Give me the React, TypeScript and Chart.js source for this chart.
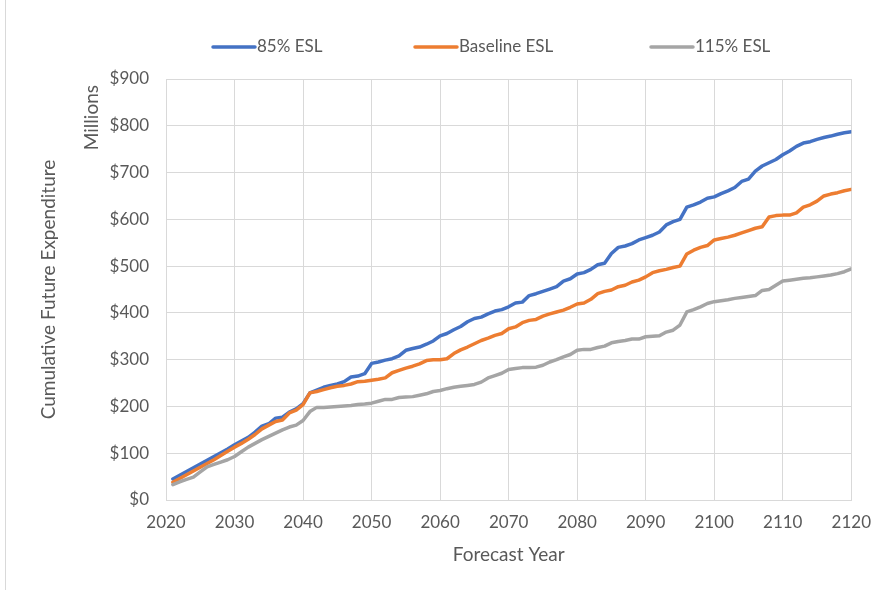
import { useEffect, useRef } from "react";
import { Chart, registerables } from "chart.js";

Chart.register(...registerables);

// Cumulative future expenditure ($ millions), one value per forecast year
const FIRST_YEAR = 2021;

const ESL_85 = [
  45, 53, 61, 69, 77, 85, 93, 101, 109, 118,
  126, 134, 145, 158, 163, 175, 177, 188, 195, 206,
  229, 235, 241, 245, 248, 253, 263, 265, 270, 292,
  295, 299, 302, 308, 320, 324, 327, 333, 340, 351,
  356, 364, 371, 381, 388, 391, 398, 404, 407, 413,
  421, 423, 437, 441, 446, 451, 456, 468, 473, 483,
  486, 493, 503, 506, 527, 540, 543, 548, 556, 561,
  566, 573, 588, 595, 600, 626, 631, 637, 645, 648,
  655, 661, 668, 681, 686, 703, 714, 721, 728, 738,
  746, 756, 763, 766, 771, 775, 778, 782, 785, 787,
];

const ESL_BASE = [
  38, 46, 54, 62, 70, 78, 86, 95, 104, 113,
  121, 130, 140, 152, 160, 168, 171, 186, 192, 204,
  229, 232, 236, 240, 243, 245, 248, 253, 254, 256,
  258, 261, 272, 277, 282, 286, 291, 298, 300, 300,
  302, 313, 321, 327, 334, 341, 346, 352, 356, 366,
  370, 379, 384, 386, 393, 398, 402, 406, 412, 419,
  421, 429, 441, 446, 449, 456, 459, 466, 470, 477,
  486, 490, 493, 497, 500, 526, 534, 540, 544, 556,
  559, 562, 566, 571, 576, 581, 584, 605, 608, 609,
  609, 614, 626, 631, 639, 650, 654, 657, 661, 664,
];

const ESL_115 = [
  33, 39, 44, 49, 60, 71, 76, 81, 86, 93,
  103, 113, 121, 129, 136, 143, 150, 156, 160, 170,
  189, 198, 198, 199, 200, 201, 202, 204, 205, 207,
  211, 215, 215, 219, 220, 221, 224, 227, 232, 234,
  238, 241, 243, 245, 247, 252, 261, 266, 271, 279,
  281, 283, 283, 284, 288, 295, 300, 306, 311, 320,
  322, 322, 326, 329, 336, 339, 341, 344, 344, 349,
  350, 351, 359, 363, 374, 402, 407, 413, 420, 424,
  426, 428, 431, 433, 435, 437, 448, 450, 459, 468,
  470, 472, 474, 475, 477, 479, 481, 484, 488, 494,
];

const SERIES_NAMES = ["85% ESL", "Baseline ESL", "115% ESL"];
const SERIES_VALUES = [ESL_85, ESL_BASE, ESL_115];
const SERIES_COLORS = ["#4472C4", "#ED7D31", "#A5A5A5"];

const X_MIN = 2020;
const X_MAX = 2120;
const X_STEP = 10;
const Y_MIN = 0;
const Y_MAX = 900;
const Y_STEP = 100;

const X_TITLE = "Forecast Year";
const Y_TITLE = "Cumulative Future Expenditure";
const UNIT_LABEL = "Millions";

const FONT = "Lato, 'Open Sans', sans-serif";
const TEXT_COLOR = "#595959";
const GRID_COLOR = "#D9D9D9";

// legend layout: start of each swatch line
const LEGEND_X = [213, 415, 651];
const LEGEND_Y = 47;
const LEGEND_LINE = 42;

const overlayPlugin = {
  id: "legendAndUnits",
  afterDraw(chart: any) {
    const ctx = chart.ctx as CanvasRenderingContext2D;
    const area = chart.chartArea;

    // display-units label beside the value axis
    ctx.save();
    ctx.font = `19px ${FONT}`;
    ctx.fillStyle = TEXT_COLOR;
    ctx.translate(92, area.top + 6);
    ctx.rotate(-Math.PI / 2);
    ctx.textAlign = "right";
    ctx.textBaseline = "middle";
    ctx.fillText(UNIT_LABEL, 0, 0);
    ctx.restore();

    // legend row
    ctx.save();
    ctx.font = `17px ${FONT}`;
    ctx.textBaseline = "middle";
    ctx.textAlign = "left";
    chart.data.datasets.forEach((ds: any, i: number) => {
      const x0 = LEGEND_X[i];
      ctx.strokeStyle = ds.borderColor;
      ctx.lineWidth = 3.5;
      ctx.lineCap = "round";
      ctx.beginPath();
      ctx.moveTo(x0, LEGEND_Y);
      ctx.lineTo(x0 + LEGEND_LINE, LEGEND_Y);
      ctx.stroke();
      ctx.fillStyle = TEXT_COLOR;
      ctx.fillText(ds.label, x0 + LEGEND_LINE + 2, LEGEND_Y);
    });
    ctx.restore();
  },
};

export default function App() {
  const canvasRef = useRef<HTMLCanvasElement | null>(null);

  useEffect(() => {
    const canvas = canvasRef.current;
    if (!canvas) return;

    const datasets = SERIES_NAMES.map((name, s) => ({
      label: name,
      data: SERIES_VALUES[s].map((v, i) => ({ x: FIRST_YEAR + i, y: v })),
      borderColor: SERIES_COLORS[s],
      backgroundColor: SERIES_COLORS[s],
      borderWidth: 3.5,
      borderCapStyle: "round" as const,
      borderJoinStyle: "round" as const,
      pointRadius: 0,
      tension: 0,
      fill: false,
      order: SERIES_NAMES.length - s,
    }));

    const chart = new Chart(canvas, {
      type: "line",
      data: { datasets },
      options: {
        animation: false,
        responsive: false,
        devicePixelRatio: 1,
        layout: { padding: { left: 0, right: 31, top: 79, bottom: 0 } },
        plugins: {
          legend: { display: false },
          tooltip: { enabled: false },
        },
        scales: {
          x: {
            type: "linear",
            min: X_MIN,
            max: X_MAX,
            afterFit: (scale: any) => {
              scale.height = 90;
            },
            ticks: {
              stepSize: X_STEP,
              color: TEXT_COLOR,
              font: { family: FONT, size: 17 },
              padding: 12,
              maxRotation: 0,
              callback: (v: any) => String(v),
            },
            grid: { color: GRID_COLOR, lineWidth: 1, drawTicks: false },
            border: { color: GRID_COLOR, width: 1 },
            title: {
              display: true,
              text: X_TITLE,
              color: TEXT_COLOR,
              font: { family: FONT, size: 19 },
              padding: { top: 0, bottom: 24 },
            },
          },
          y: {
            type: "linear",
            min: Y_MIN,
            max: Y_MAX,
            afterFit: (scale: any) => {
              scale.width = 166;
            },
            ticks: {
              stepSize: Y_STEP,
              color: TEXT_COLOR,
              font: { family: FONT, size: 17 },
              padding: 17,
              callback: (v: any) => "$" + v,
            },
            grid: { color: GRID_COLOR, lineWidth: 1, drawTicks: false },
            border: { color: GRID_COLOR, width: 1 },
            title: {
              display: true,
              text: Y_TITLE,
              color: TEXT_COLOR,
              font: { family: FONT, size: 19 },
              padding: { top: 37, bottom: 0 },
            },
          },
        },
      },
      plugins: [overlayPlugin],
    });

    return () => chart.destroy();
  }, []);

  return (
    <div
      style={{
        position: "absolute",
        left: 0,
        top: 0,
        width: 883,
        height: 590,
        background: "#ffffff",
      }}
    >
      <div
        style={{
          position: "absolute",
          left: 5,
          top: 0,
          width: 0,
          height: 590,
          borderLeft: `1px solid ${GRID_COLOR}`,
        }}
      />
      <canvas
        ref={canvasRef}
        width={883}
        height={590}
        style={{ position: "absolute", left: 0, top: 0, width: 883, height: 590 }}
      />
    </div>
  );
}
